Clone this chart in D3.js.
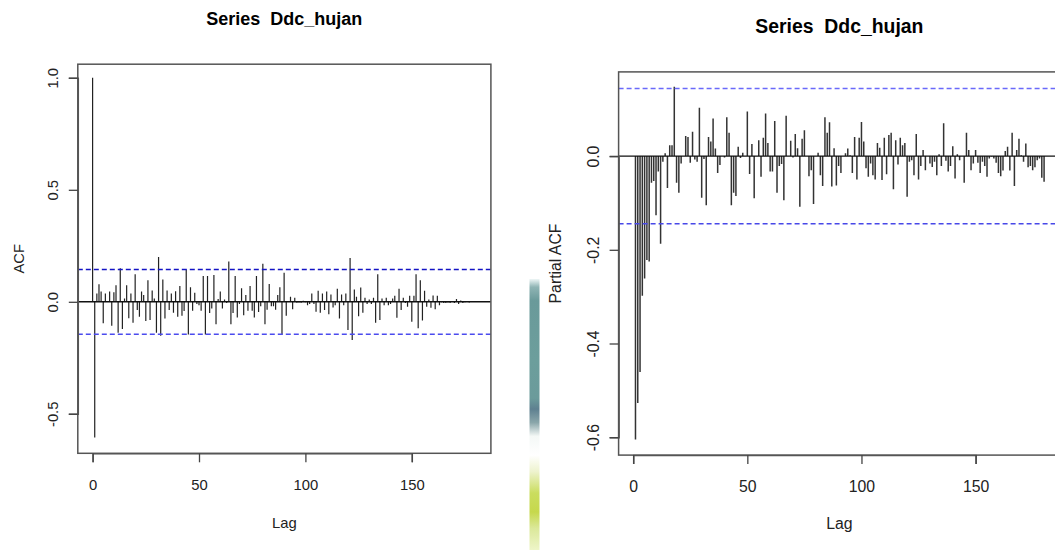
<!DOCTYPE html>
<html>
<head>
<meta charset="utf-8">
<script src="https://cdn.jsdelivr.net/npm/d3@7"></script>
<style>
  html, body { margin: 0; padding: 0; background: #fff; }
  svg { display: block; font-family: "Liberation Sans", Arial, sans-serif; }
</style>
</head>
<body>
<svg id="chart" width="1055" height="550"></svg>
<script>
// ---------------- DATA ----------------
const seriesTitle = "Series  Ddc_hujan";
const lagTicks = [0, 50, 100, 150];
const acfTicks = [-0.5, 0, 0.5, 1.0];
const pacfTicks = [-0.6, -0.4, -0.2, 0.0];
const ciLimit = 0.1445;

// ACF, lags 0..180
const acfValues = [
  1.000, -0.606, 0.037, 0.078, 0.046, -0.096, 0.037, 0.003, 0.046, -0.107,
  0.043, 0.074, -0.138, 0.150, -0.121, 0.015, 0.074, -0.073, 0.037, -0.093,
  0.123, -0.037, -0.067, 0.046, 0.030, -0.086, 0.096, -0.081, 0.050, 0.015,
  -0.138, 0.200, -0.152, 0.100, -0.074, 0.050, -0.037, 0.037, -0.049, 0.047,
  -0.067, 0.070, -0.062, -0.041, 0.144, -0.146, 0.065, -0.040, 0.040, -0.010,
  -0.015, -0.040, 0.115, -0.146, 0.115, -0.050, -0.030, 0.120, -0.100, 0.012,
  0.046, -0.030, 0.010, -0.005, 0.180, -0.100, -0.050, 0.115, -0.070, -0.010,
  0.060, -0.060, 0.030, -0.040, 0.070, -0.040, -0.070, 0.115, -0.045, -0.020,
  0.170, -0.100, -0.035, 0.080, -0.020, -0.020, -0.035, 0.030, 0.065, -0.146,
  0.130, -0.062, 0.000, 0.022, -0.033, 0.018, -0.004, -0.003, -0.004, 0.005,
  -0.002, -0.015, -0.010, 0.037, -0.010, -0.044, 0.049, -0.049, 0.037, -0.037,
  0.046, -0.056, 0.033, -0.025, -0.015, 0.058, -0.075, 0.033, -0.015, 0.037,
  -0.126, 0.195, -0.170, 0.055, 0.022, -0.064, 0.064, -0.049, 0.018, -0.010,
  0.010, -0.010, 0.018, -0.093, 0.123, -0.081, 0.015, -0.015, 0.018, -0.015,
  -0.010, 0.015, 0.027, -0.071, 0.058, -0.037, 0.018, -0.005, -0.022, 0.027,
  -0.089, 0.027, 0.123, -0.118, 0.096, -0.084, 0.049, -0.022, 0.010, -0.027,
  0.028, -0.033, 0.027, -0.015, -0.002, -0.005, -0.005, -0.003, -0.005, 0.002,
  -0.005, 0.012, -0.010, 0.006, -0.005, -0.002, 0.000, -0.003, 0.000, 0.000,
  0.000
];

// Partial ACF, lags 1..180
const pacfValues = [
  -0.605, -0.527, -0.461, -0.298, -0.261, -0.222, -0.225, -0.057, -0.053, -0.126,
  -0.033, -0.187, -0.012, 0.006, -0.068, 0.023, 0.023, 0.148, -0.057, -0.078,
  -0.016, 0.000, 0.043, 0.041, -0.014, 0.052, -0.007, -0.012, 0.103, -0.089,
  -0.006, -0.105, 0.041, 0.031, 0.080, 0.016, -0.036, -0.019, 0.000, -0.003,
  0.083, 0.050, -0.105, -0.078, -0.085, 0.020, -0.004, 0.007, 0.000, 0.095,
  -0.038, 0.026, -0.090, 0.000, 0.034, -0.044, 0.039, 0.091, 0.028, -0.033,
  -0.033, 0.075, -0.078, -0.021, -0.017, -0.094, 0.086, 0.000, 0.033, -0.003,
  0.047, 0.017, -0.108, 0.037, 0.055, 0.000, -0.043, -0.030, -0.102, 0.000,
  0.007, -0.041, -0.064, 0.083, 0.050, 0.072, -0.065, 0.017, -0.063, -0.021,
  -0.036, 0.000, 0.006, 0.016, 0.002, -0.036, 0.041, -0.050, 0.039, 0.073,
  0.031, -0.026, -0.044, -0.016, -0.041, -0.050, 0.028, 0.018, -0.051, 0.039,
  -0.039, 0.045, 0.050, -0.071, 0.034, -0.018, 0.039, 0.023, 0.028, -0.087,
  -0.012, -0.009, -0.041, 0.047, -0.050, -0.021, 0.013, -0.030, 0.000, -0.016,
  -0.023, -0.012, -0.041, 0.004, -0.021, 0.070, -0.010, -0.033, -0.021, 0.021,
  -0.048, 0.004, -0.009, 0.000, -0.057, 0.050, 0.013, -0.030, -0.016, 0.013,
  -0.014, -0.036, -0.012, -0.021, -0.044, -0.005, -0.001, -0.005, -0.014, -0.036,
  -0.043, -0.031, 0.011, 0.020, -0.031, 0.050, -0.064, 0.013, 0.037, 0.002,
  -0.012, 0.027, -0.024, -0.021, -0.030, -0.024, -0.009, -0.005, -0.046, -0.055
];

const acfData = acfValues.map((v, i) => ({ lag: i, value: v }));
const pacfData = pacfValues.map((v, i) => ({ lag: i + 1, value: v }));

// ---------------- LAYOUT ----------------
const svg = d3.select("#chart");

// decorative image fragment between the two panels
const defs = svg.append("defs");
const grad = defs.append("linearGradient").attr("id", "strip")
  .attr("x1", 0).attr("y1", 0).attr("x2", 0).attr("y2", 1);
[
  [0, "#eef6f6"], [0.03, "#8fb4b4"], [0.08, "#6a9a9a"], [0.30, "#6c9e9c"],
  [0.44, "#6b9b9b"], [0.48, "#5e8090"], [0.53, "#8aa6aa"], [0.58, "#f4f8f6"],
  [0.65, "#ffffff"], [0.71, "#eef3cf"], [0.79, "#cadd5e"], [0.86, "#c6d84c"],
  [0.92, "#dbe89a"], [1, "#eef5c8"]
].forEach(([o, c]) => grad.append("stop").attr("offset", o).attr("stop-color", c));
svg.append("rect").attr("x", 529.5).attr("y", 279).attr("width", 10).attr("height", 271)
  .attr("fill", "url(#strip)");

function drawPanel(cfg) {
  const g = svg.append("g");
  const x = d3.scaleLinear().domain([0, 150]).range([cfg.lag0, cfg.lag150]);
  const y = d3.scaleLinear().domain([cfg.yTicks[0], cfg.yTicks[cfg.yTicks.length - 1]])
    .range([cfg.yLowPx, cfg.yHighPx]);

  const clipId = "clip" + cfg.id;
  defs.append("clipPath").attr("id", clipId).append("rect")
    .attr("x", cfg.box.x0).attr("y", cfg.box.y0)
    .attr("width", cfg.box.x1 - cfg.box.x0).attr("height", cfg.box.y1 - cfg.box.y0);

  const plot = g.append("g").attr("clip-path", `url(#${clipId})`);

  // bars (type "h")
  plot.selectAll("line.bar").data(cfg.data).join("line")
    .attr("class", "bar")
    .attr("x1", d => x(d.lag)).attr("x2", d => x(d.lag))
    .attr("y1", y(0)).attr("y2", d => y(d.value))
    .attr("stroke", cfg.barColor).attr("stroke-width", cfg.barWidth);

  // zero line
  plot.append("line")
    .attr("x1", cfg.box.x0).attr("x2", cfg.box.x1)
    .attr("y1", y(0)).attr("y2", y(0))
    .attr("stroke", "#111").attr("stroke-width", 1.4);

  // confidence limits
  [[ciLimit, cfg.ciColors[0]], [-ciLimit, cfg.ciColors[1]]].forEach(([v, c]) => {
    plot.append("line")
      .attr("x1", cfg.box.x0).attr("x2", cfg.box.x1)
      .attr("y1", y(v)).attr("y2", y(v))
      .attr("stroke", c).attr("stroke-width", 1.5)
      .attr("stroke-dasharray", "5,3");
  });

  // box
  g.append("rect")
    .attr("x", cfg.box.x0).attr("y", cfg.box.y0)
    .attr("width", cfg.box.x1 - cfg.box.x0).attr("height", cfg.box.y1 - cfg.box.y0)
    .attr("fill", "none").attr("stroke", "#555").attr("stroke-width", 1.5);

  // x axis
  const xAxis = g.append("g").attr("transform", `translate(0,${cfg.box.y1})`)
    .call(d3.axisBottom(x).tickValues(lagTicks).tickSizeOuter(0).tickSize(cfg.tickLen)
      .tickFormat(d => String(d)));
  xAxis.select(".domain").attr("stroke", "#555").attr("stroke-width", 1.5);
  xAxis.selectAll(".tick line").attr("stroke", "#444").attr("stroke-width", 1.3);
  xAxis.selectAll(".tick text")
    .attr("y", cfg.xLabelBase - cfg.box.y1).attr("dy", 0)
    .attr("fill", "#222").attr("font-size", cfg.fontSize)
    .attr("font-family", "Liberation Sans, Arial, sans-serif");

  // y axis
  const yAxis = g.append("g").attr("transform", `translate(${cfg.box.x0},0)`)
    .call(d3.axisLeft(y).tickValues(cfg.yTicks).tickSizeOuter(0).tickSize(cfg.tickLen)
      .tickFormat(d => d.toFixed(1)));
  yAxis.select(".domain").attr("stroke", "#555").attr("stroke-width", 1.5);
  yAxis.selectAll(".tick line").attr("stroke", "#444").attr("stroke-width", 1.3);
  yAxis.selectAll(".tick text")
    .attr("x", null).attr("dy", null)
    .attr("text-anchor", "middle")
    .attr("transform", `translate(${cfg.yLabelBase - cfg.box.x0},0) rotate(-90)`)
    .attr("fill", "#222").attr("font-size", cfg.fontSize)
    .attr("font-family", "Liberation Sans, Arial, sans-serif");

  const cy = (cfg.box.y0 + cfg.box.y1) / 2;

  // title
  g.append("text").attr("x", cfg.titleX).attr("y", cfg.titleBase)
    .attr("text-anchor", "middle").attr("font-weight", "bold")
    .attr("font-size", cfg.titleSize).attr("fill", "#000")
    .attr("xml:space", "preserve").style("white-space", "pre")
    .text(seriesTitle);

  // axis titles
  g.append("text").attr("x", cfg.titleX).attr("y", cfg.lagBase)
    .attr("text-anchor", "middle").attr("font-size", cfg.fontSize).attr("fill", "#222")
    .text("Lag");
  g.append("text")
    .attr("transform", `translate(${cfg.yTitleBase},${cy}) rotate(-90)`)
    .attr("text-anchor", "middle").attr("font-size", cfg.fontSize).attr("fill", "#222")
    .text(cfg.yTitle);
}

drawPanel({
  id: "acf",
  data: acfData,
  yTicks: acfTicks,
  lag0: 92.6, lag150: 411.8,
  yLowPx: 413.8, yHighPx: 77.8,
  box: { x0: 77.8, x1: 490.9, y0: 64.2, y1: 453.3 },
  tickLen: 9,
  fontSize: 14.8,
  titleSize: 18,
  titleX: 284.3, titleBase: 25,
  xLabelBase: 490.5,
  yLabelBase: 58,
  lagBase: 527.7,
  yTitleBase: 24.3,
  yTitle: "ACF",
  barColor: "#222", barWidth: 1.2,
  ciColors: ["#1414c4", "#4b4bee"]
});

drawPanel({
  id: "pacf",
  data: pacfData,
  yTicks: pacfTicks,
  lag0: 633.2, lag150: 975.6,
  yLowPx: 437.2, yHighPx: 156.1,
  box: { x0: 618.6, x1: 1061, y0: 71.9, y1: 455.1 },
  tickLen: 9,
  fontSize: 15.8,
  titleSize: 19.4,
  titleX: 839.4, titleBase: 33.2,
  xLabelBase: 492,
  yLabelBase: 598.5,
  lagBase: 529,
  yTitleBase: 560.5,
  yTitle: "Partial ACF",
  barColor: "#333", barWidth: 1.5,
  ciColors: ["#6a6afa", "#4848e8"]
});
</script>
</body>
</html>
